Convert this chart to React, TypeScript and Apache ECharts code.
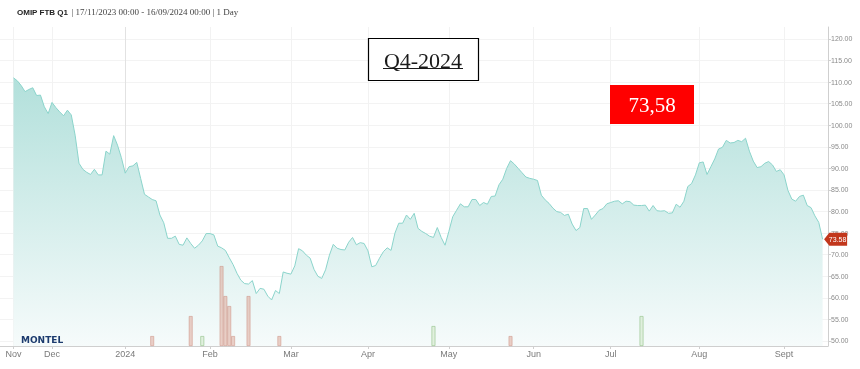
import React, { useEffect, useRef } from 'react';
import * as echarts from 'echarts';

// ---- data ----
const holidays = ['2023-12-25', '2023-12-26', '2024-01-01', '2024-03-29', '2024-04-01', '2024-05-01'];
const rangeStart = '2023-11-17';
const rangeEnd = '2024-09-16';

const pricesNov = [111.0, 110.3, 109.2, 107.8, 108.3, 108.7, 106.9, 107.0, 104.3, 102.7];
const pricesDec = [105.3, 104.1, 103.1, 102.2, 103.5, 102.4, 97.7, 91.2, 89.8, 89.1, 88.6, 89.8, 88.5, 88.5, 94.0, 93.3, 97.6, 95.4, 92.5];
const pricesJan = [88.9, 90.4, 90.6, 91.4, 87.7, 84.0, 83.4, 82.8, 82.5, 79.2, 77.4, 73.8, 73.8, 74.3, 72.4, 72.2, 73.9, 72.6, 71.5, 72.2, 73.2, 74.9];
const pricesFeb = [74.9, 74.6, 72.0, 71.6, 71.0, 69.3, 67.7, 65.7, 64.1, 63.3, 63.2, 64.0, 61.0, 62.2, 62.0, 60.4, 59.5, 61.7, 61.0, 66.0, 65.7];
const pricesMar = [65.5, 67.4, 71.4, 70.9, 69.9, 69.2, 66.6, 65.0, 64.5, 66.5, 69.9, 72.4, 71.5, 71.2, 71.1, 72.9, 74.0, 72.3, 72.8, 72.6];
const pricesApr = [70.9, 67.2, 67.5, 69.2, 70.7, 71.6, 71.0, 75.0, 77.3, 77.3, 79.2, 78.2, 79.6, 76.1, 75.4, 74.9, 74.3, 74.0, 76.3, 74.0, 72.2];
const pricesMay = [75.4, 78.8, 80.3, 81.8, 81.1, 81.1, 82.8, 82.8, 81.4, 82.1, 81.7, 83.5, 83.6, 86.2, 87.5, 90.0, 91.8, 91.0, 90.0, 89.0, 88.0, 87.7];
const pricesJun = [87.5, 87.2, 83.8, 82.7, 81.9, 80.8, 80.0, 79.8, 79.1, 79.4, 77.1, 75.6, 76.3, 80.7, 80.7, 78.2, 79.2, 80.3, 80.7, 81.8];
const pricesJul = [82.1, 82.4, 82.5, 81.8, 82.4, 82.3, 81.5, 81.4, 81.4, 81.5, 80.1, 81.4, 80.2, 80.1, 80.2, 79.6, 79.7, 81.7, 81.0, 82.4, 85.8, 86.5, 88.5];
const pricesAug = [91.3, 91.5, 88.6, 90.4, 92.2, 94.5, 94.9, 96.5, 95.9, 96.0, 96.5, 96.2, 97.0, 94.0, 91.7, 90.2, 90.4, 91.2, 91.6, 90.8, 89.3, 89.7];
const pricesSep = [88.5, 84.9, 82.9, 82.4, 83.5, 83.8, 81.4, 80.9, 79.0, 77.5, 73.58];

const sellVolumeDates = ['2024-01-11', '2024-01-25', '2024-02-06', '2024-02-07', '2024-02-08', '2024-02-09', '2024-02-15', '2024-02-27', '2024-05-24'];
const sellVolumeValues = [1, 3, 8, 5, 4, 1, 5, 1, 1];
const buyVolumeDates = ['2024-01-30', '2024-04-25', '2024-07-11'];
const buyVolumeValues = [1, 2, 3];

const monthLabels: Record<string, string> = {
  '11': 'Nov', '12': 'Dec', '1': '2024', '2': 'Feb', '3': 'Mar', '4': 'Apr',
  '5': 'May', '6': 'Jun', '7': 'Jul', '8': 'Aug', '9': 'Sept',
};
const priceTicks = [50, 55, 60, 65, 70, 75, 80, 85, 90, 95, 100, 105, 110, 115, 120];

const titleName = 'OMIP FTB Q1';
const titleRange = '| 17/11/2023 00:00 - 16/09/2024 00:00 | 1 Day';
const boxLabel = 'Q4-2024';
const priceLabel = '73,58';

function buildTradingDays(): string[] {
  const out: string[] = [];
  const d = new Date(rangeStart + 'T00:00:00Z');
  const end = new Date(rangeEnd + 'T00:00:00Z').getTime();
  while (d.getTime() <= end) {
    const wd = d.getUTCDay();
    const s = d.toISOString().slice(0, 10);
    if (wd !== 0 && wd !== 6 && !holidays.includes(s)) out.push(s);
    d.setUTCDate(d.getUTCDate() + 1);
  }
  return out;
}

export default function App() {
  const ref = useRef<HTMLDivElement>(null);
  useEffect(() => {
    if (!ref.current) return;
    const chart = echarts.init(ref.current, undefined, { renderer: 'svg' });
    const days = buildTradingDays();
    const prices = [
      ...pricesNov, ...pricesDec, ...pricesJan, ...pricesFeb, ...pricesMar, ...pricesApr,
      ...pricesMay, ...pricesJun, ...pricesJul, ...pricesAug, ...pricesSep,
    ];
    const lineData = days.map((_, i) => [i, prices[i]]);
    const monthTicks: number[] = [];
    const tickLabel: Record<number, string> = {};
    days.forEach((d, i) => {
      if (i === 0 || d.slice(0, 7) !== days[i - 1].slice(0, 7)) {
        monthTicks.push(i);
        tickLabel[i] = monthLabels[String(Number(d.slice(5, 7)))];
      }
    });
    const volData: any[] = [];
    sellVolumeDates.forEach((d, k) => {
      volData.push({
        value: [days.indexOf(d), sellVolumeValues[k]],
        itemStyle: { color: 'rgba(222,170,155,0.55)', borderColor: 'rgba(200,130,115,0.55)', borderWidth: 0.8 },
      });
    });
    buyVolumeDates.forEach((d, k) => {
      volData.push({
        value: [days.indexOf(d), buyVolumeValues[k]],
        itemStyle: { color: 'rgba(215,235,210,0.7)', borderColor: 'rgba(150,195,140,0.8)', borderWidth: 0.8 },
      });
    });
    const lastIdx = prices.length - 1;
    const lastVal = prices[lastIdx];
    const splitColors = monthTicks.map((_, k) => (k === 2 ? '#e2e2e2' : '#f2f2f2'));

    chart.setOption({
      animation: false,
      grid: { left: 0, right: 32, top: 27, bottom: 23, containLabel: false },
      xAxis: {
        type: 'value',
        min: -3.5,
        max: lastIdx + 1.4,
        axisLine: { show: true, onZero: false, lineStyle: { color: '#cfcfcf', width: 1 } },
        axisTick: { show: true, customValues: monthTicks, length: 3, lineStyle: { color: '#cfcfcf' } },
        axisLabel: {
          customValues: monthTicks,
          formatter: (v: number) => tickLabel[v] ?? '',
          color: '#7a7a7a',
          fontSize: 9,
          fontFamily: 'Liberation Sans',
          margin: 3,
        },
        splitLine: { show: true, lineStyle: { color: splitColors, width: 1 } },
      },
      yAxis: [
        {
          type: 'value',
          position: 'right',
          min: 48.84,
          max: 122.78,
          axisLine: { show: true, onZero: false, lineStyle: { color: '#cfcfcf' } },
          axisTick: { show: true, customValues: priceTicks, length: 3, lineStyle: { color: '#cfcfcf' } },
          axisLabel: {
            customValues: priceTicks,
            formatter: (v: number) => v.toFixed(2),
            color: '#8a8a8a',
            fontSize: 7,
            fontFamily: 'Liberation Sans',
            margin: 3,
          },
          splitLine: { show: true, lineStyle: { color: '#f3f3f3', width: 1 } },
        },
        {
          type: 'value',
          min: 0,
          max: 31.9,
          show: false,
          axisLine: { show: false, onZero: false },
          axisTick: { show: false },
          axisLabel: { show: false },
          splitLine: { show: false },
        },
      ],
      series: [
        {
          type: 'line',
          data: lineData,
          symbol: 'none',
          showSymbol: false,
          z: 2,
          lineStyle: { color: '#8bd4cb', width: 1 },
          areaStyle: {
            color: new echarts.graphic.LinearGradient(0, 0, 0, 1, [
              { offset: 0, color: '#b2e0db' },
              { offset: 1, color: '#f6fbfb' },
            ]),
            opacity: 1,
          },
          markPoint: {
            symbol: 'path://M0,5 L5,0 L22,0 L22,10 L5,10 Z',
            symbolSize: [23, 13],
            symbolOffset: [13, 0],
            itemStyle: { color: '#c2371c' },
            label: {
              show: true,
              color: '#ffffff',
              fontSize: 7,
              fontFamily: 'Liberation Sans',
              offset: [2, 0],
              formatter: () => lastVal.toFixed(2),
            },
            data: [{ coord: [lastIdx, lastVal], value: lastVal }],
          },
        },
        {
          type: 'bar',
          yAxisIndex: 1,
          barWidth: 4,
          z: 3,
          data: volData,
        },
      ],
      graphic: [
        {
          type: 'text',
          left: 17,
          top: 6,
          style: {
            text: '{b|' + titleName + '} {s|' + titleRange + '}',
            rich: {
              b: { fontFamily: 'Liberation Sans', fontWeight: 'bold', fontSize: 8, fill: '#222' },
              s: { fontFamily: 'Liberation Serif', fontSize: 9, fill: '#444' },
            },
          },
        },
        {
          type: 'rect',
          shape: { x: 368.5, y: 38.5, width: 110, height: 42 },
          style: { fill: '#ffffff', stroke: '#000000', lineWidth: 1.2 },
          z: 10,
        },
        {
          type: 'text',
          x: 423,
          y: 60,
          z: 11,
          style: {
            text: boxLabel,
            fontFamily: 'Liberation Serif',
            fontSize: 22,
            fill: '#1a1a1a',
            align: 'center',
            verticalAlign: 'middle',
          },
        },
        {
          type: 'line',
          z: 11,
          shape: { x1: 383, y1: 68.5, x2: 463, y2: 68.5 },
          style: { stroke: '#1a1a1a', lineWidth: 1 },
        },
        {
          type: 'rect',
          z: 10,
          shape: { x: 610, y: 85, width: 84, height: 39 },
          style: { fill: '#ff0000' },
        },
        {
          type: 'text',
          x: 652,
          y: 105,
          z: 11,
          style: {
            text: priceLabel,
            fontFamily: 'Liberation Serif',
            fontSize: 21,
            fill: '#ffffff',
            align: 'center',
            verticalAlign: 'middle',
          },
        },
        {
          type: 'text',
          x: 21,
          y: 340,
          z: 11,
          style: {
            text: 'MONTEL',
            fontFamily: 'DejaVu Sans',
            fontWeight: 'bold',
            fontSize: 9,
            fill: '#1c3b6e',
            verticalAlign: 'middle',
          },
        },
      ],
    });
    return () => chart.dispose();
  }, []);
  return <div ref={ref} style={{ position: 'fixed', left: 0, top: 0, width: 860, height: 369 }} />;
}
